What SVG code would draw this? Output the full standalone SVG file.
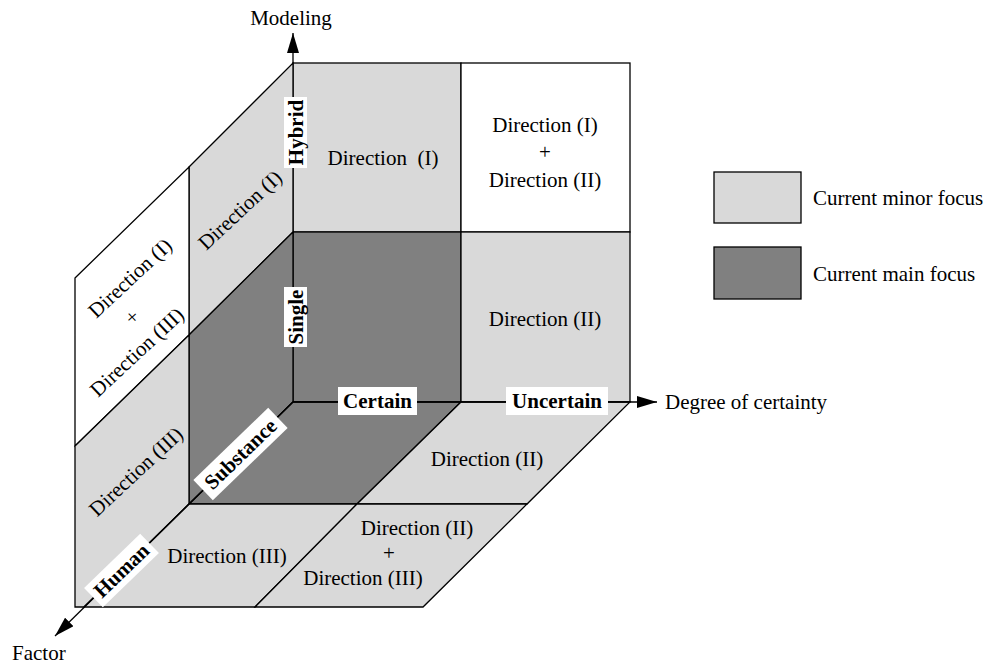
<svg xmlns="http://www.w3.org/2000/svg" width="989" height="665" viewBox="0 0 989 665">
<defs>
<style>
.lt{fill:#d9d9d9;stroke:#000;stroke-width:1.3;stroke-linejoin:miter}
.dk{fill:#808080;stroke:#000;stroke-width:1.3}
.wh{fill:#fff;stroke:#000;stroke-width:1.3}
.ax{fill:none;stroke:#000;stroke-width:1.3}
.t{font-family:"Liberation Serif","Times New Roman",serif;font-size:21px;fill:#000}
.c{text-anchor:middle}
.b{font-family:"Liberation Serif","Times New Roman",serif;font-size:21px;font-weight:bold;fill:#000;text-anchor:middle}
.lb{fill:#fff;stroke:none}
</style>
<marker id="arr" viewBox="0 0 20 12" refX="20" refY="6" markerWidth="20" markerHeight="12" markerUnits="userSpaceOnUse" orient="auto">
<path d="M0,0 L20,6 L0,12 z" fill="#000"/>
</marker>
</defs>
<rect width="989" height="665" fill="#fff"/>

<g id="back-wall">
<rect class="lt" x="293" y="63" width="168" height="169"/>
<rect class="wh" x="461" y="63" width="169" height="169"/>
<rect class="dk" x="293" y="232" width="168" height="170"/>
<rect class="lt" x="461" y="232" width="169" height="170"/>
</g>

<g id="left-wall">
<polygon class="lt" points="189,167 293,63 293,232 189,335"/>
<polygon class="dk" points="189,335 293,232 293,402 189,504"/>
<polygon class="wh" points="75,278 189,167 189,335 75,446"/>
<polygon class="lt" points="75,446 189,335 189,504 84,607 75,607"/>
</g>

<g id="floor">
<polygon class="dk" points="189,504 293,402 461,402 357,504"/>
<polygon class="lt" points="357,504 461,402 630,402 527,504"/>
<polygon class="lt" points="84,607 189,504 357,504 255,607"/>
<polygon class="lt" points="255,607 357,504 527,504 423,607"/>
</g>

<g id="connectors">
<line class="ax" x1="293" y1="63" x2="293" y2="33" marker-end="url(#arr)"/>
<line class="ax" x1="293" y1="402" x2="657" y2="402" marker-end="url(#arr)"/>
<line class="ax" x1="293" y1="402" x2="55" y2="636" marker-end="url(#arr)"/>
</g>

<g id="axis-labels">
<text class="t c" x="291" y="25">Modeling</text>
<text class="t" x="665" y="409">Degree of certainty</text>
<text class="t" x="12" y="660">Factor</text>
</g>

<g id="label-hybrid">
<rect class="lb" x="284" y="97" width="23" height="71"/>
<text class="b" x="295.5" y="139.5" transform="rotate(-90 295.5 132.5)">Hybrid</text>
</g>
<g id="label-single">
<rect class="lb" x="284" y="287" width="23" height="60"/>
<text class="b" x="295.5" y="324" transform="rotate(-90 295.5 317)">Single</text>
</g>
<g id="label-certain">
<rect class="lb" x="338" y="387" width="79" height="28"/>
<text class="b" x="377.5" y="408">Certain</text>
</g>
<g id="label-uncertain">
<rect class="lb" x="506" y="387" width="102" height="28"/>
<text class="b" x="557" y="408">Uncertain</text>
</g>
<g id="label-substance" transform="rotate(-44 240.5 454)">
<rect class="lb" x="188.5" y="440" width="104" height="28"/>
<text class="b" x="240.5" y="461">Substance</text>
</g>
<g id="label-human" transform="rotate(-44 121.5 570.5)">
<rect class="lb" x="82.5" y="557" width="78" height="27"/>
<text class="b" x="121.5" y="577.5">Human</text>
</g>

<g id="back-texts">
<text class="t c" x="383" y="165" xml:space="preserve">Direction  (I)</text>
<text class="t c" x="545" y="132">Direction (I)</text>
<text class="t c" x="545" y="159">+</text>
<text class="t c" x="545" y="187">Direction (II)</text>
<text class="t c" x="545" y="326">Direction (II)</text>
</g>

<g id="left-texts">
<text class="t c" x="240" y="217" transform="rotate(-43 240 210)">Direction (I)</text>
<text class="t c" x="130" y="285" transform="rotate(-43 130 278)">Direction (I)</text>
<text class="t c" x="132" y="324" transform="rotate(-43 132 317)">+</text>
<text class="t c" x="137" y="359" transform="rotate(-43 137 352)">Direction (III)</text>
<text class="t c" x="136" y="478.5" transform="rotate(-43 136 471.5)">Direction (III)</text>
</g>

<g id="floor-texts">
<text class="t c" x="487" y="466">Direction (II)</text>
<text class="t c" x="227" y="563">Direction (III)</text>
<text class="t c" x="417" y="535">Direction (II)</text>
<text class="t c" x="389" y="560">+</text>
<text class="t c" x="363" y="585">Direction (III)</text>
</g>

<g id="legend">
<rect class="lt" x="714" y="172" width="87" height="51"/>
<text class="t" x="813" y="205">Current minor focus</text>
<rect class="dk" x="714" y="247" width="87" height="52"/>
<text class="t" x="813" y="281">Current main focus</text>
</g>
</svg>
